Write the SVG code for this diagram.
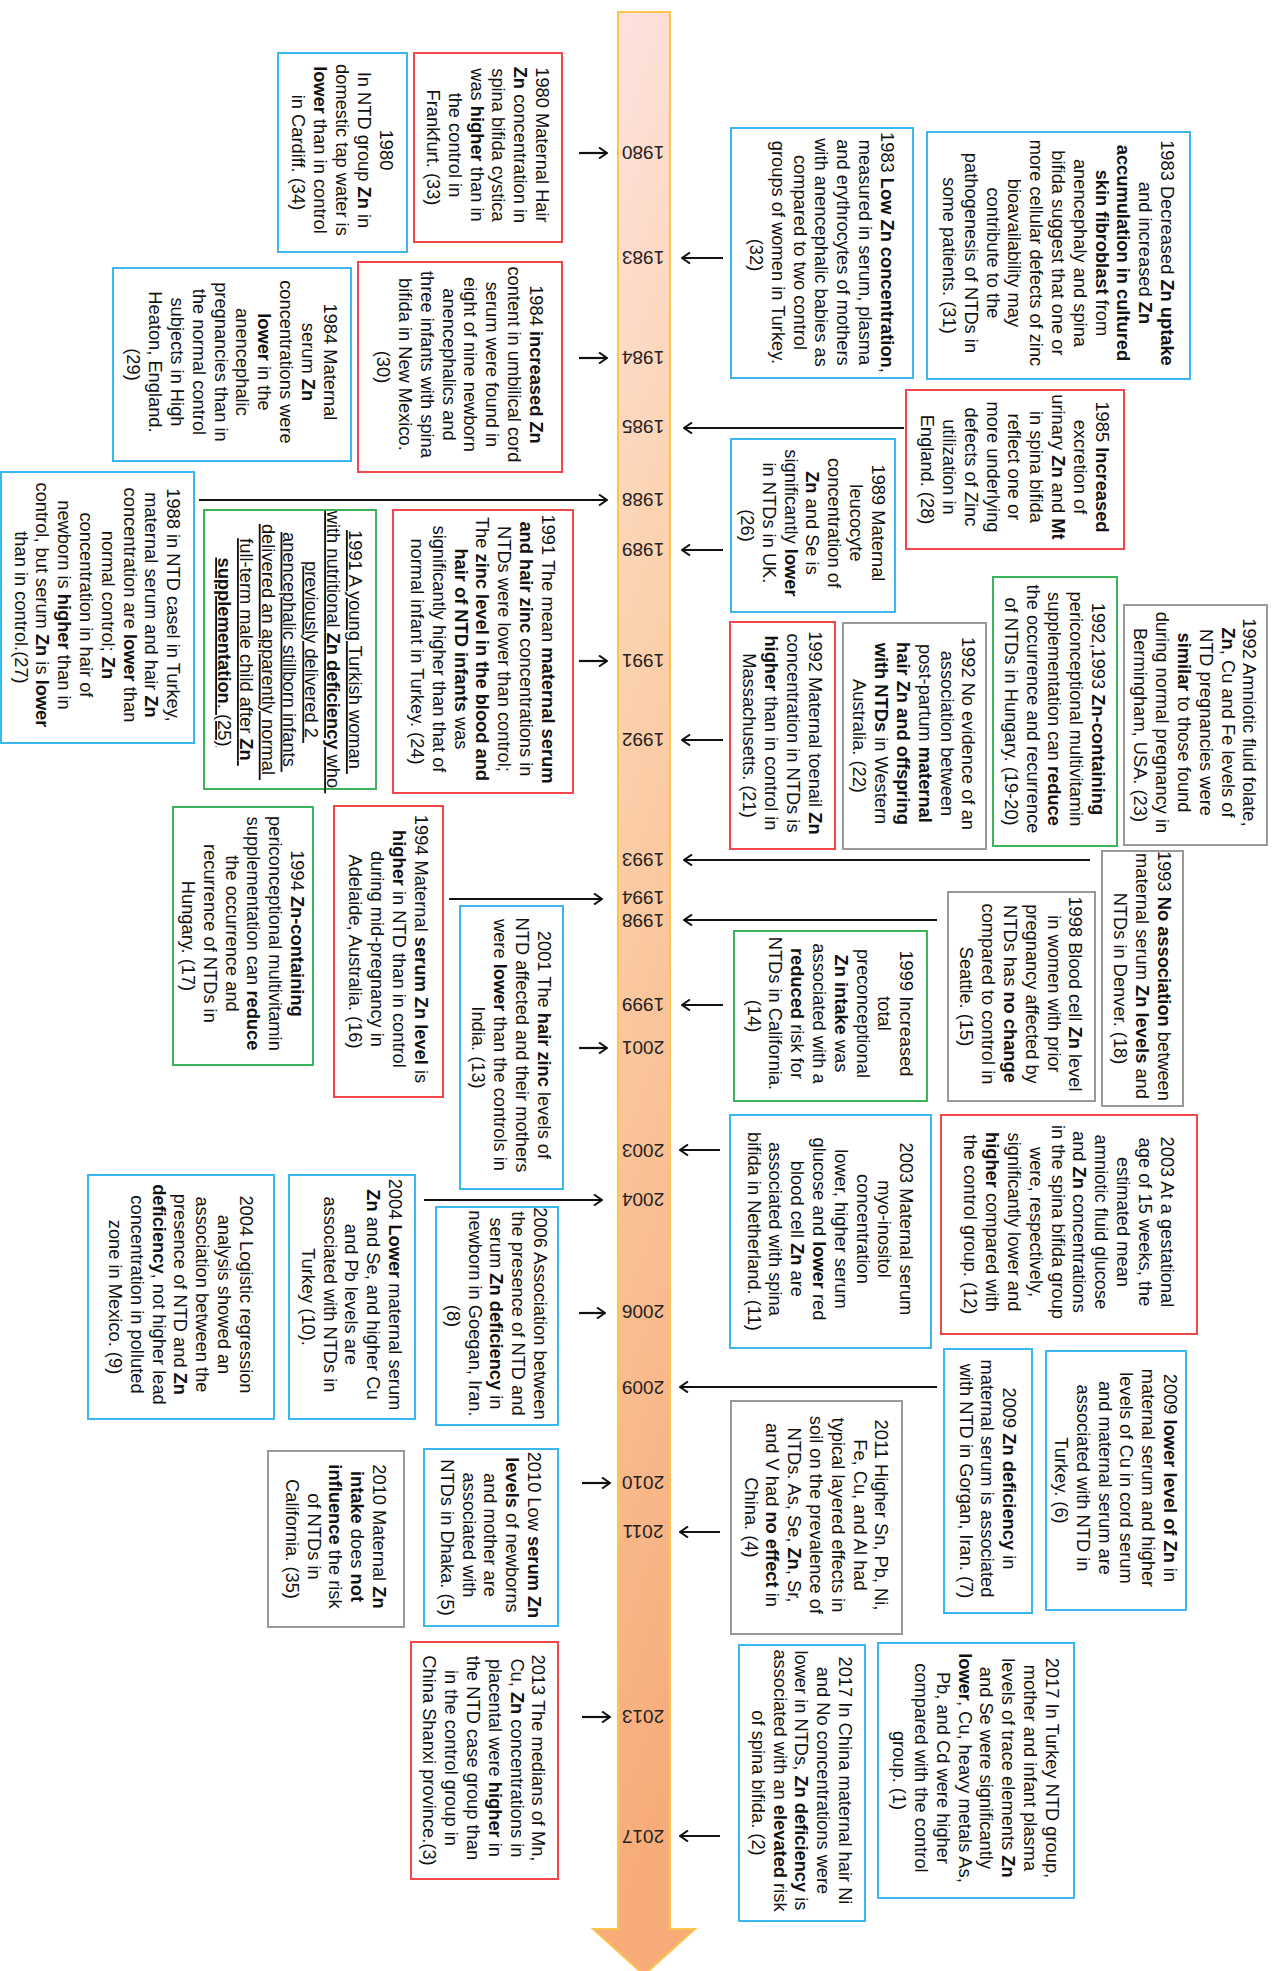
<svg xmlns="http://www.w3.org/2000/svg" width="1275" height="1971" viewBox="0 0 1275 1971">
<style>
.box{fill:#fff;stroke-width:2}
.b{stroke:#3ab6f0}.r{stroke:#f4474b}.g{stroke:#3cb45c}.k{stroke:#999}
.t{font-family:"Liberation Sans",Arial,sans-serif;font-size:18.3px;fill:#111;text-anchor:middle}
.yr{font-family:"Liberation Sans",Arial,sans-serif;font-size:19px;fill:#222;text-anchor:middle}
.bd{font-weight:bold}
.u{text-decoration:underline}
.c{stroke:#111;stroke-width:2.2;fill:none;marker-end:url(#ah)}
</style>
<defs>
<linearGradient id="sg" x1="0" y1="0" x2="0.15" y2="1">
<stop offset="0" stop-color="#fde4e6"/>
<stop offset="0.35" stop-color="#fcd3b0"/>
<stop offset="1" stop-color="#f7ab78"/>
</linearGradient>
<marker id="ah" markerUnits="userSpaceOnUse" markerWidth="12" markerHeight="12" viewBox="0 0 12 12" refX="11" refY="6" orient="auto">
<path d="M3,0.5 L11,6 L3,11.5" fill="none" stroke="#111" stroke-width="2"/>
</marker>
</defs>

<g id="timeline">
<polygon points="618,12 670,12 670,1929 695,1929 644,1975 593,1929 618,1929" fill="url(#sg)" stroke="#fcc550" stroke-width="2"/>
<g class="yr">
<text transform="rotate(180 643 153)" x="643" y="159.7">1980</text>
<text transform="rotate(180 643 258)" x="643" y="264.7">1983</text>
<text transform="rotate(180 643 358)" x="643" y="364.7">1984</text>
<text transform="rotate(180 643 427)" x="643" y="433.7">1985</text>
<text transform="rotate(180 643 500)" x="643" y="506.7">1988</text>
<text transform="rotate(180 643 550)" x="643" y="556.7">1989</text>
<text transform="rotate(180 643 661)" x="643" y="667.7">1991</text>
<text transform="rotate(180 643 740)" x="643" y="746.7">1992</text>
<text transform="rotate(180 643 860)" x="643" y="866.7">1993</text>
<text transform="rotate(180 643 898)" x="643" y="904.7">1994</text>
<text transform="rotate(180 643 921)" x="643" y="927.7">1998</text>
<text transform="rotate(180 643 1005)" x="643" y="1011.7">1999</text>
<text transform="rotate(180 643 1048)" x="643" y="1054.7">2001</text>
<text transform="rotate(180 643 1151)" x="643" y="1157.7">2003</text>
<text transform="rotate(180 643 1200)" x="643" y="1206.7">2004</text>
<text transform="rotate(180 643 1312)" x="643" y="1318.7">2006</text>
<text transform="rotate(180 643 1388)" x="643" y="1394.7">2009</text>
<text transform="rotate(180 643 1483)" x="643" y="1489.7">2010</text>
<text transform="rotate(180 643 1532)" x="643" y="1538.7">2011</text>
<text transform="rotate(180 643 1717)" x="643" y="1723.7">2013</text>
<text transform="rotate(180 643 1837)" x="643" y="1843.7">2017</text>
</g>
</g>

<g id="connectors">
<path class="c" d="M579,153 H607"/>
<path class="c" d="M579,358 H607"/>
<path class="c" d="M199,500 H607"/>
<path class="c" d="M579,661 H607"/>
<path class="c" d="M449,899 H602"/>
<path class="c" d="M579,1048 H607"/>
<path class="c" d="M424,1200 H602"/>
<path class="c" d="M579,1313 H605"/>
<path class="c" d="M582,1483 H610"/>
<path class="c" d="M582,1717 H610"/>
<path class="c" d="M723,258 H682"/>
<path class="c" d="M904,428 H684"/>
<path class="c" d="M723,550 H682"/>
<path class="c" d="M723,740 H682"/>
<path class="c" d="M1090,860 H684"/>
<path class="c" d="M937,920 H684"/>
<path class="c" d="M723,1005 H682"/>
<path class="c" d="M720,1150 H680"/>
<path class="c" d="M937,1387 H680"/>
<path class="c" d="M720,1532 H680"/>
<path class="c" d="M720,1836 H680"/>
</g>

<g id="n1980-hair">
<rect class="box r" x="414" y="53" width="148" height="189"/>
<text class="t" transform="translate(488,147.5) rotate(90)">
<tspan x="0" y="-47.9">1980 Maternal Hair</tspan>
<tspan x="0" dy="21.8"><tspan class="bd">Zn</tspan> concentration in</tspan>
<tspan x="0" dy="21.8">spina bifida cystica</tspan>
<tspan x="0" dy="21.8">was <tspan class="bd">higher</tspan> than in</tspan>
<tspan x="0" dy="21.8">the control in</tspan>
<tspan x="0" dy="21.8">Frankfurt. (33)</tspan>
</text>
</g>

<g id="n1980-water">
<rect class="box b" x="278" y="53" width="129" height="199"/>
<text class="t" transform="translate(342.5,152.5) rotate(90)">
<tspan x="0" y="-37">1980</tspan>
<tspan x="0" dy="21.8">In NTD group <tspan class="bd">Zn</tspan> in</tspan>
<tspan x="0" dy="21.8">domestic tap water is</tspan>
<tspan x="0" dy="21.8"><tspan class="bd">lower</tspan> than in control</tspan>
<tspan x="0" dy="21.8">in Cardiff. (34)</tspan>
</text>
</g>

<g id="n1984-cord">
<rect class="box r" x="358" y="262" width="204" height="210"/>
<text class="t" transform="translate(460,367) rotate(90)">
<tspan x="0" y="-69.7">1984 <tspan class="bd">increased Zn</tspan></tspan>
<tspan x="0" dy="21.8">content in umbilical cord</tspan>
<tspan x="0" dy="21.8">serum were found in</tspan>
<tspan x="0" dy="21.8">eight of nine newborn</tspan>
<tspan x="0" dy="21.8">anencephalics and</tspan>
<tspan x="0" dy="21.8">three infants with spina</tspan>
<tspan x="0" dy="21.8">bifida in New Mexico.</tspan>
<tspan x="0" dy="21.8">(30)</tspan>
</text>
</g>

<g id="n1984-serum">
<rect class="box b" x="113" y="268" width="238" height="193"/>
<text class="t" transform="translate(232,364.5) rotate(90)">
<tspan x="0" y="-91.5">1984 Maternal</tspan>
<tspan x="0" dy="21.8">serum <tspan class="bd">Zn</tspan></tspan>
<tspan x="0" dy="21.8">concentrations were</tspan>
<tspan x="0" dy="21.8"><tspan class="bd">lower</tspan> in the</tspan>
<tspan x="0" dy="21.8">anencephalic</tspan>
<tspan x="0" dy="21.8">pregnancies than in</tspan>
<tspan x="0" dy="21.8">the normal control</tspan>
<tspan x="0" dy="21.8">subjects in High</tspan>
<tspan x="0" dy="21.8">Heaton, England.</tspan>
<tspan x="0" dy="21.8">(29)</tspan>
</text>
</g>

<g id="n1983-low">
<rect class="box b" x="731" y="128" width="182" height="250"/>
<text class="t" transform="translate(822,255) rotate(90)">
<tspan x="0" y="-58.8">1983  <tspan class="bd">Low Zn concentration</tspan>,</tspan>
<tspan x="0" dy="21.8">measured in serum, plasma</tspan>
<tspan x="0" dy="21.8">and erythrocytes of mothers</tspan>
<tspan x="0" dy="21.8">with anencephalic babies as</tspan>
<tspan x="0" dy="21.8">compared to two control</tspan>
<tspan x="0" dy="21.8">groups of women in Turkey.</tspan>
<tspan x="0" dy="21.8">(32)</tspan>
</text>
</g>

<g id="n1983-fibroblast">
<rect class="box b" x="927" y="132" width="263" height="247"/>
<text class="t" transform="translate(1058.5,255.5) rotate(90)">
<tspan x="0" y="-102.4">1983 Decreased <tspan class="bd">Zn uptake</tspan></tspan>
<tspan x="0" dy="21.8">and increased <tspan class="bd">Zn</tspan></tspan>
<tspan x="0" dy="21.8" class="bd">accumulation in cultured</tspan>
<tspan x="0" dy="21.8"><tspan class="bd">skin fibroblast</tspan> from</tspan>
<tspan x="0" dy="21.8">anencephaly and spina</tspan>
<tspan x="0" dy="21.8">bifida suggest that one or</tspan>
<tspan x="0" dy="21.8">more cellular defects of zinc</tspan>
<tspan x="0" dy="21.8">bioavailability may</tspan>
<tspan x="0" dy="21.8">contribute to the</tspan>
<tspan x="0" dy="21.8">pathogenesis of NTDs in</tspan>
<tspan x="0" dy="21.8">some patients. (31)</tspan>
</text>
</g>

<g id="n1985">
<rect class="box r" x="906" y="390" width="218" height="159"/>
<text class="t" transform="translate(1015,469.5) rotate(90)">
<tspan x="0" y="-80.6">1985 <tspan class="bd">Increased</tspan></tspan>
<tspan x="0" dy="21.8">excretion of</tspan>
<tspan x="0" dy="21.8">urinary <tspan class="bd">Zn</tspan> and <tspan class="bd">Mt</tspan></tspan>
<tspan x="0" dy="21.8">in spina bifida</tspan>
<tspan x="0" dy="21.8">reflect one or</tspan>
<tspan x="0" dy="21.8">more underlying</tspan>
<tspan x="0" dy="21.8">defects of Zinc</tspan>
<tspan x="0" dy="21.8">utilization in</tspan>
<tspan x="0" dy="21.8">England. (28)</tspan>
</text>
</g>

<g id="n1989">
<rect class="box b" x="731" y="439" width="164" height="173"/>
<text class="t" transform="translate(813,525.5) rotate(90)">
<tspan x="0" y="-58.8">1989 Maternal</tspan>
<tspan x="0" dy="21.8">leucocyte</tspan>
<tspan x="0" dy="21.8">concentration of</tspan>
<tspan x="0" dy="21.8"><tspan class="bd">Zn</tspan> and Se is</tspan>
<tspan x="0" dy="21.8">significantly <tspan class="bd">lower</tspan></tspan>
<tspan x="0" dy="21.8">in NTDs in UK.</tspan>
<tspan x="0" dy="21.8">(26)</tspan>
</text>
</g>

<g id="n1988">
<rect class="box b" x="1" y="472" width="193" height="271"/>
<text class="t" transform="translate(97.5,607.5) rotate(90)">
<tspan x="0" y="-69.7">1988 in NTD casel in Turkey,</tspan>
<tspan x="0" dy="21.8">maternal serum and hair <tspan class="bd">Zn</tspan></tspan>
<tspan x="0" dy="21.8">concentration are <tspan class="bd">lower</tspan> than</tspan>
<tspan x="0" dy="21.8">normal control; <tspan class="bd">Zn</tspan></tspan>
<tspan x="0" dy="21.8">concentration in hair of</tspan>
<tspan x="0" dy="21.8">newborn is <tspan class="bd">higher</tspan> than in</tspan>
<tspan x="0" dy="21.8">control, but serum <tspan class="bd">Zn</tspan> is <tspan class="bd">lower</tspan></tspan>
<tspan x="0" dy="21.8">than in control.(27)</tspan>
</text>
</g>

<g id="n1991-turkish">
<rect class="box g" x="204" y="510" width="172" height="279"/>
<text class="t u" transform="translate(290,652) rotate(90)">
<tspan x="0" y="-58.8">1991 A young Turkish woman</tspan>
<tspan x="0" dy="21.8">with nutritional <tspan class="bd">Zn deficiency</tspan> who</tspan>
<tspan x="0" dy="21.8">previously delivered 2</tspan>
<tspan x="0" dy="21.8">anencephalic stillborn infants</tspan>
<tspan x="0" dy="21.8">delivered an apparently normal</tspan>
<tspan x="0" dy="21.8">full-term male child after <tspan class="bd">Zn</tspan></tspan>
<tspan x="0" dy="21.8"><tspan class="bd">supplementation</tspan>. (25)</tspan>
</text>
</g>

<g id="n1991-mean">
<rect class="box r" x="393" y="510" width="180" height="283"/>
<text class="t" transform="translate(483,651.5) rotate(90)">
<tspan x="0" y="-58.8">1991 The mean <tspan class="bd">maternal serum</tspan></tspan>
<tspan x="0" dy="21.8"><tspan class="bd">and hair zinc</tspan> concentrations in</tspan>
<tspan x="0" dy="21.8">NTDs were lower than control;</tspan>
<tspan x="0" dy="21.8">The <tspan class="bd">zinc level in the blood and</tspan></tspan>
<tspan x="0" dy="21.8"><tspan class="bd">hair of NTD infants</tspan> was</tspan>
<tspan x="0" dy="21.8">significantly higher than that of</tspan>
<tspan x="0" dy="21.8">normal infant in Turkey. (24)</tspan>
</text>
</g>

<g id="n1992-1993">
<rect class="box g" x="993" y="577" width="124" height="269"/>
<text class="t" transform="translate(1055,711.5) rotate(90)">
<tspan x="0" y="-37">1992,1993 <tspan class="bd">Zn-containing</tspan></tspan>
<tspan x="0" dy="21.8">periconceptional multivitamin</tspan>
<tspan x="0" dy="21.8">supplementation can <tspan class="bd">reduce</tspan></tspan>
<tspan x="0" dy="21.8">the occurrence and recurrence</tspan>
<tspan x="0" dy="21.8">of NTDs in Hungary. (19-20)</tspan>
</text>
</g>

<g id="n1992-amniotic">
<rect class="box k" x="1124" y="605" width="143" height="240"/>
<text class="t" transform="translate(1195.5,725) rotate(90)">
<tspan x="0" y="-47.9">1992 Amniotic fluid folate,</tspan>
<tspan x="0" dy="21.8"><tspan class="bd">Zn</tspan>, Cu and Fe levels of</tspan>
<tspan x="0" dy="21.8">NTD pregnancies were</tspan>
<tspan x="0" dy="21.8"><tspan class="bd">similar</tspan> to those found</tspan>
<tspan x="0" dy="21.8">during normal pregnancy in</tspan>
<tspan x="0" dy="21.8">Bermingham, USA. (23)</tspan>
</text>
</g>

<g id="n1992-hair">
<rect class="box k" x="843" y="623" width="143" height="226"/>
<text class="t" transform="translate(914.5,736) rotate(90)">
<tspan x="0" y="-47.9">1992 No evidence of an</tspan>
<tspan x="0" dy="21.8">association between</tspan>
<tspan x="0" dy="21.8">post-partum <tspan class="bd">maternal</tspan></tspan>
<tspan x="0" dy="21.8" class="bd">hair Zn and offspring</tspan>
<tspan x="0" dy="21.8"><tspan class="bd">with NTDs</tspan> in Western</tspan>
<tspan x="0" dy="21.8">Australia. (22)</tspan>
</text>
</g>

<g id="n1992-toenail">
<rect class="box r" x="730" y="622" width="105" height="227"/>
<text class="t" transform="translate(782.5,735.5) rotate(90)">
<tspan x="0" y="-26.1">1992 Maternal toenail <tspan class="bd">Zn</tspan></tspan>
<tspan x="0" dy="21.8">concentration in NTDs is</tspan>
<tspan x="0" dy="21.8"><tspan class="bd">higher</tspan> than in control in</tspan>
<tspan x="0" dy="21.8">Massachusetts. (21)</tspan>
</text>
</g>

<g id="n1993">
<rect class="box k" x="1102" y="851" width="81" height="255"/>
<text class="t" transform="translate(1142.5,978.5) rotate(90)">
<tspan x="0" y="-15.2">1993 <tspan class="bd">No association</tspan> between</tspan>
<tspan x="0" dy="21.8">maternal serum <tspan class="bd">Zn levels</tspan> and</tspan>
<tspan x="0" dy="21.8">NTDs in Denver. (18)</tspan>
</text>
</g>

<g id="n1998">
<rect class="box k" x="948" y="892" width="147" height="209"/>
<text class="t" transform="translate(1021.5,996.5) rotate(90)">
<tspan x="0" y="-47.9">1998 Blood cell <tspan class="bd">Zn</tspan> level</tspan>
<tspan x="0" dy="21.8">in women with prior</tspan>
<tspan x="0" dy="21.8">pregnancy affected by</tspan>
<tspan x="0" dy="21.8">NTDs has <tspan class="bd">no change</tspan></tspan>
<tspan x="0" dy="21.8">compared to control in</tspan>
<tspan x="0" dy="21.8">Seattle. (15)</tspan>
</text>
</g>

<g id="n1999">
<rect class="box g" x="734" y="931" width="193" height="170"/>
<text class="t" transform="translate(830.5,1016) rotate(90)">
<tspan x="0" y="-69.7">1999 Increased</tspan>
<tspan x="0" dy="21.8">total</tspan>
<tspan x="0" dy="21.8">preconceptional</tspan>
<tspan x="0" dy="21.8"><tspan class="bd">Zn intake</tspan> was</tspan>
<tspan x="0" dy="21.8">associated with a</tspan>
<tspan x="0" dy="21.8"><tspan class="bd">reduced</tspan> risk for</tspan>
<tspan x="0" dy="21.8">NTDs in California.</tspan>
<tspan x="0" dy="21.8">(14)</tspan>
</text>
</g>

<g id="n1994-hungary">
<rect class="box g" x="173" y="807" width="140" height="258"/>
<text class="t" transform="translate(243,936) rotate(90)">
<tspan x="0" y="-47.9">1994 <tspan class="bd">Zn-containing</tspan></tspan>
<tspan x="0" dy="21.8">periconceptional multivitamin</tspan>
<tspan x="0" dy="21.8">supplementation can <tspan class="bd">reduce</tspan></tspan>
<tspan x="0" dy="21.8">the occurrence and</tspan>
<tspan x="0" dy="21.8">recurrence of NTDs in</tspan>
<tspan x="0" dy="21.8">Hungary. (17)</tspan>
</text>
</g>

<g id="n1994-adelaide">
<rect class="box r" x="334" y="806" width="109" height="291"/>
<text class="t" transform="translate(388.5,951.5) rotate(90)">
<tspan x="0" y="-26.1">1994 Maternal <tspan class="bd">serum Zn level</tspan> is</tspan>
<tspan x="0" dy="21.8"><tspan class="bd">higher</tspan> in NTD than in control</tspan>
<tspan x="0" dy="21.8">during mid-pregnancy in</tspan>
<tspan x="0" dy="21.8">Adelaide, Australia. (16)</tspan>
</text>
</g>

<g id="n2001">
<rect class="box b" x="460" y="906" width="103" height="283"/>
<text class="t" transform="translate(511.5,1047.5) rotate(90)">
<tspan x="0" y="-26.1">2001 The <tspan class="bd">hair zinc</tspan> levels of</tspan>
<tspan x="0" dy="21.8">NTD affected and their mothers</tspan>
<tspan x="0" dy="21.8">were <tspan class="bd">lower</tspan> than the controls in</tspan>
<tspan x="0" dy="21.8">India. (13)</tspan>
</text>
</g>

<g id="n2003-myo">
<rect class="box b" x="730" y="1115" width="201" height="233"/>
<text class="t" transform="translate(830.5,1231.5) rotate(90)">
<tspan x="0" y="-69.7">2003 Maternal serum</tspan>
<tspan x="0" dy="21.8">myo-inositol</tspan>
<tspan x="0" dy="21.8">concentration</tspan>
<tspan x="0" dy="21.8">lower, higher serum</tspan>
<tspan x="0" dy="21.8">glucose and <tspan class="bd">lower</tspan> red</tspan>
<tspan x="0" dy="21.8">blood cell <tspan class="bd">Zn</tspan> are</tspan>
<tspan x="0" dy="21.8">associated with spina</tspan>
<tspan x="0" dy="21.8">bifida in Netherland. (11)</tspan>
</text>
</g>

<g id="n2003-amniotic">
<rect class="box r" x="941" y="1115" width="256" height="219"/>
<text class="t" transform="translate(1069,1224.5) rotate(90)">
<tspan x="0" y="-91.5">2003 At a gestational</tspan>
<tspan x="0" dy="21.8">age of 15 weeks, the</tspan>
<tspan x="0" dy="21.8">estimated mean</tspan>
<tspan x="0" dy="21.8">amniotic fluid glucose</tspan>
<tspan x="0" dy="21.8">and <tspan class="bd">Zn</tspan> concentrations</tspan>
<tspan x="0" dy="21.8">in the spina bifida group</tspan>
<tspan x="0" dy="21.8">were, respectively,</tspan>
<tspan x="0" dy="21.8">significantly lower and</tspan>
<tspan x="0" dy="21.8"><tspan class="bd">higher</tspan> compared with</tspan>
<tspan x="0" dy="21.8">the control group. (12)</tspan>
</text>
</g>

<g id="n2004-mexico">
<rect class="box b" x="88" y="1175" width="186" height="244"/>
<text class="t" transform="translate(181,1297) rotate(90)">
<tspan x="0" y="-58.8">2004 Logistic regression</tspan>
<tspan x="0" dy="21.8">analysis showed an</tspan>
<tspan x="0" dy="21.8">association between the</tspan>
<tspan x="0" dy="21.8">presence of NTD and <tspan class="bd">Zn</tspan></tspan>
<tspan x="0" dy="21.8"><tspan class="bd">deficiency</tspan>, not higher lead</tspan>
<tspan x="0" dy="21.8">concentration in polluted</tspan>
<tspan x="0" dy="21.8">zone in Mexico. (9)</tspan>
</text>
</g>

<g id="n2004-turkey">
<rect class="box b" x="289" y="1175" width="126" height="244"/>
<text class="t" transform="translate(352,1297) rotate(90)">
<tspan x="0" y="-37">2004 <tspan class="bd">Lower</tspan> maternal serum</tspan>
<tspan x="0" dy="21.8"><tspan class="bd">Zn</tspan> and Se, and higher Cu</tspan>
<tspan x="0" dy="21.8">and Pb levels are</tspan>
<tspan x="0" dy="21.8">associated with NTDs in</tspan>
<tspan x="0" dy="21.8">Turkey (10).</tspan>
</text>
</g>

<g id="n2006">
<rect class="box b" x="436" y="1207" width="122" height="218"/>
<text class="t" transform="translate(497,1316) rotate(90)">
<tspan x="0" y="-37">2006 Association between</tspan>
<tspan x="0" dy="21.8">the presence of NTD and</tspan>
<tspan x="0" dy="21.8">serum <tspan class="bd">Zn deficiency</tspan> in</tspan>
<tspan x="0" dy="21.8">newborn in Goegan, Iran.</tspan>
<tspan x="0" dy="21.8">(8)</tspan>
</text>
</g>

<g id="n2010-california">
<rect class="box k" x="268" y="1451" width="136" height="176"/>
<text class="t" transform="translate(336,1539) rotate(90)">
<tspan x="0" y="-37">2010 Maternal <tspan class="bd">Zn</tspan></tspan>
<tspan x="0" dy="21.8"><tspan class="bd">intake</tspan> does <tspan class="bd">not</tspan></tspan>
<tspan x="0" dy="21.8"><tspan class="bd">influence</tspan> the risk</tspan>
<tspan x="0" dy="21.8">of NTDs in</tspan>
<tspan x="0" dy="21.8">California. (35)</tspan>
</text>
</g>

<g id="n2010-dhaka">
<rect class="box b" x="424" y="1449" width="134" height="177"/>
<text class="t" transform="translate(491,1537.5) rotate(90)">
<tspan x="0" y="-37">2010 Low <tspan class="bd">serum Zn</tspan></tspan>
<tspan x="0" dy="21.8"><tspan class="bd">levels</tspan> of newborns</tspan>
<tspan x="0" dy="21.8">and mother are</tspan>
<tspan x="0" dy="21.8">associated with</tspan>
<tspan x="0" dy="21.8">NTDs in Dhaka. (5)</tspan>
</text>
</g>

<g id="n2013">
<rect class="box r" x="411" y="1642" width="147" height="237"/>
<text class="t" transform="translate(484.5,1760.5) rotate(90)">
<tspan x="0" y="-47.9">2013 The medians of Mn,</tspan>
<tspan x="0" dy="21.8">Cu, <tspan class="bd">Zn</tspan> concentrations in</tspan>
<tspan x="0" dy="21.8">placental were <tspan class="bd">higher</tspan> in</tspan>
<tspan x="0" dy="21.8">the NTD case group than</tspan>
<tspan x="0" dy="21.8">in the control group in</tspan>
<tspan x="0" dy="21.8">China Shanxi province.(3)</tspan>
</text>
</g>

<g id="n2009-gorgan">
<rect class="box b" x="944" y="1349" width="88" height="264"/>
<text class="t" transform="translate(988,1481) rotate(90)">
<tspan x="0" y="-15.2">2009  <tspan class="bd">Zn deficiency</tspan> in</tspan>
<tspan x="0" dy="21.8">maternal serum is associated</tspan>
<tspan x="0" dy="21.8">with NTD in Gorgan, Iran. (7)</tspan>
</text>
</g>

<g id="n2009-turkey">
<rect class="box b" x="1046" y="1351" width="140" height="259"/>
<text class="t" transform="translate(1116,1480.5) rotate(90)">
<tspan x="0" y="-47.9">2009 <tspan class="bd">lower level of Zn</tspan> in</tspan>
<tspan x="0" dy="21.8">maternal serum and higher</tspan>
<tspan x="0" dy="21.8">levels of Cu in cord serum</tspan>
<tspan x="0" dy="21.8">and maternal serum are</tspan>
<tspan x="0" dy="21.8">associated with NTD in</tspan>
<tspan x="0" dy="21.8">Turkey. (6)</tspan>
</text>
</g>

<g id="n2011">
<rect class="box k" x="731" y="1401" width="171" height="233"/>
<text class="t" transform="translate(816.5,1517.5) rotate(90)">
<tspan x="0" y="-58.8">2011 Higher Sn, Pb, Ni,</tspan>
<tspan x="0" dy="21.8">Fe, Cu, and Al had</tspan>
<tspan x="0" dy="21.8">typical layered effects in</tspan>
<tspan x="0" dy="21.8">soil on the prevalence of</tspan>
<tspan x="0" dy="21.8">NTDs. As, Se, <tspan class="bd">Zn</tspan>, Sr,</tspan>
<tspan x="0" dy="21.8">and V had <tspan class="bd">no effect</tspan> in</tspan>
<tspan x="0" dy="21.8">China. (4)</tspan>
</text>
</g>

<g id="n2017-china">
<rect class="box b" x="739" y="1645" width="126" height="276"/>
<text class="t" transform="translate(802,1783) rotate(90)">
<tspan x="0" y="-37">2017 In China maternal hair Ni</tspan>
<tspan x="0" dy="21.8">and No concentrations were</tspan>
<tspan x="0" dy="21.8">lower in NTDs, <tspan class="bd">Zn deficiency</tspan> is</tspan>
<tspan x="0" dy="21.8">associated with an <tspan class="bd">elevated</tspan> risk</tspan>
<tspan x="0" dy="21.8">of spina bifida. (2)</tspan>
</text>
</g>

<g id="n2017-turkey">
<rect class="box b" x="878" y="1643" width="196" height="255"/>
<text class="t" transform="translate(976,1770.5) rotate(90)">
<tspan x="0" y="-69.7">2017 In Turkey NTD group,</tspan>
<tspan x="0" dy="21.8">mother and infant plasma</tspan>
<tspan x="0" dy="21.8">levels of trace elements <tspan class="bd">Zn</tspan></tspan>
<tspan x="0" dy="21.8">and Se were significantly</tspan>
<tspan x="0" dy="21.8"><tspan class="bd">lower</tspan>, Cu, heavy metals As,</tspan>
<tspan x="0" dy="21.8">Pb, and Cd were higher</tspan>
<tspan x="0" dy="21.8">compared with the control</tspan>
<tspan x="0" dy="21.8">group. (1)</tspan>
</text>
</g>
</svg>
